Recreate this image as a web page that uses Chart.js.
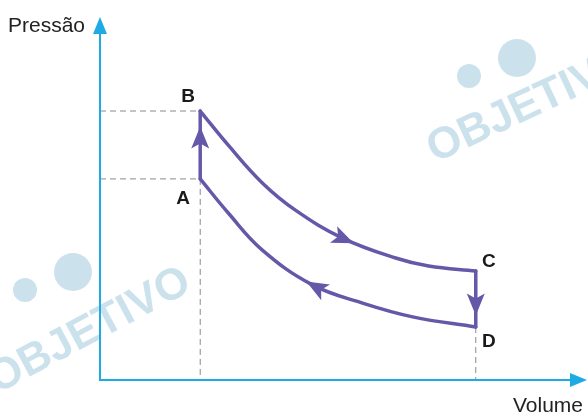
<!DOCTYPE html>
<html>
<head>
<meta charset="utf-8">
<script src="https://cdn.jsdelivr.net/npm/chart.js@4/dist/chart.umd.min.js"></script>
<style>
  html, body { margin: 0; padding: 0; background: #fff; }
  canvas { display: block; }
</style>
</head>
<body>
<canvas id="ciclo" width="588" height="414"></canvas>
<script>
// Curva B -> C (volume, pressão) em unidades arbitrárias
const volumeBC   = [2.0, 2.56, 3.24, 3.9, 4.84, 5.9, 6.56, 7.5];
const pressureBC = [7.41, 6.47, 5.43, 4.68, 3.91, 3.36, 3.14, 3.0];

// Curva A -> D
const volumeAD   = [2.0, 2.56, 3.24, 4.24, 5.24, 6.24, 7.5];
const pressureAD = [5.54, 4.60, 3.58, 2.62, 2.12, 1.74, 1.46];

// Estados
const stateLabels   = ["A", "B", "C", "D"];
const stateVolume   = [2.0, 2.0, 7.5, 7.5];
const statePressure = [5.54, 7.41, 3.0, 1.46];

const V_MAX = 9.72;
const P_MAX = 10;

const PURPLE = "#6658a8";
const AXIS_BLUE = "#1eaae3";
const WATERMARK = "rgba(160,202,220,0.55)";

const toPts = (xs, ys) => xs.map((x, i) => ({ x, y: ys[i] }));
const state = (i) => ({ x: stateVolume[i], y: statePressure[i] });

// arrows: dataset index, segment index, position t on segment, reversed?
const ARROWS = [
  { ds: 0, seg: 0, t: 0.69, reverse: false },
  { ds: 1, seg: 4, t: 0.2,  reverse: false },
  { ds: 2, seg: 0, t: 0.71, reverse: false },
  { ds: 3, seg: 2, t: 0.9,  reverse: true  },
];

const LABEL_OFFSET = { A: [-17, 20], B: [-12, -14], C: [13, -9], D: [13, 15] };

function bezierAt(p0, p1, p2, p3, t) {
  const u = 1 - t;
  const x = u*u*u*p0.x + 3*u*u*t*p1.x + 3*u*t*t*p2.x + t*t*t*p3.x;
  const y = u*u*u*p0.y + 3*u*u*t*p1.y + 3*u*t*t*p2.y + t*t*t*p3.y;
  const dx = 3*u*u*(p1.x-p0.x) + 6*u*t*(p2.x-p1.x) + 3*t*t*(p3.x-p2.x);
  const dy = 3*u*u*(p1.y-p0.y) + 6*u*t*(p2.y-p1.y) + 3*t*t*(p3.y-p2.y);
  return { x, y, dx, dy };
}

// faint "OBJETIVO" watermark with a simplified logo
function drawWatermark(ctx, x, y, deg, lx, ly) {
  ctx.save();
  ctx.fillStyle = WATERMARK;
  ctx.beginPath(); ctx.arc(lx, ly, 19, 0, Math.PI * 2); ctx.fill();
  ctx.beginPath(); ctx.arc(lx - 48, ly + 18, 12, 0, Math.PI * 2); ctx.fill();
  ctx.translate(x, y);
  ctx.rotate(deg * Math.PI / 180);
  ctx.font = "bold 44px 'Liberation Sans', Arial, sans-serif";
  ctx.textBaseline = "alphabetic";
  ctx.fillText("OBJETIVO", 0, 0);
  ctx.restore();
}

const cyclePlugin = {
  id: "ciclo",
  beforeDatasetsDraw(chart) {
    const { ctx, scales: { x, y } } = chart;
    drawWatermark(ctx, 435, 163, -25, 517, 58);
    drawWatermark(ctx, -3, 394, -28, 73, 272);

    const x0 = x.getPixelForValue(0), y0 = y.getPixelForValue(0);

    // dashed guides
    ctx.save();
    ctx.strokeStyle = "#8a8a8a";
    ctx.lineWidth = 1;
    ctx.setLineDash([6, 4]);
    const A = state(0), B = state(1), D = state(3);
    ctx.beginPath();
    [A, B].forEach(p => {
      ctx.moveTo(x0, y.getPixelForValue(p.y));
      ctx.lineTo(x.getPixelForValue(p.x), y.getPixelForValue(p.y));
    });
    [A, D].forEach(p => {
      ctx.moveTo(x.getPixelForValue(p.x), y.getPixelForValue(p.y));
      ctx.lineTo(x.getPixelForValue(p.x), y0);
    });
    ctx.stroke();
    ctx.restore();

    // axes with arrows
    const xEnd = x.getPixelForValue(V_MAX), yEnd = y.getPixelForValue(P_MAX);
    ctx.save();
    ctx.strokeStyle = AXIS_BLUE;
    ctx.fillStyle = AXIS_BLUE;
    ctx.lineWidth = 2;
    ctx.beginPath();
    ctx.moveTo(x0, yEnd + 14); ctx.lineTo(x0, y0); ctx.lineTo(xEnd - 14, y0);
    ctx.stroke();
    ctx.beginPath();
    ctx.moveTo(x0, yEnd); ctx.lineTo(x0 - 7, yEnd + 17); ctx.lineTo(x0 + 7, yEnd + 17); ctx.closePath();
    ctx.fill();
    ctx.beginPath();
    ctx.moveTo(xEnd, y0); ctx.lineTo(xEnd - 17, y0 - 7); ctx.lineTo(xEnd - 17, y0 + 7); ctx.closePath();
    ctx.fill();
    ctx.restore();
  },
  afterDatasetsDraw(chart) {
    const { ctx, scales: { x, y } } = chart;

    // arrow heads on the path
    ctx.save();
    ctx.fillStyle = PURPLE;
    ARROWS.forEach(a => {
      const pts = chart.getDatasetMeta(a.ds).data;
      const p0 = pts[a.seg], p3 = pts[a.seg + 1];
      const p1 = { x: p0.cp2x ?? p0.x, y: p0.cp2y ?? p0.y };
      const p2 = { x: p3.cp1x ?? p3.x, y: p3.cp1y ?? p3.y };
      const b = bezierAt(p0, p1, p2, p3, a.t);
      let ang = Math.atan2(b.dy, b.dx);
      if (a.reverse) ang += Math.PI;
      ctx.save();
      ctx.translate(b.x, b.y);
      ctx.rotate(ang);
      ctx.beginPath();
      ctx.moveTo(0, 0);
      ctx.lineTo(-22, -9);
      ctx.lineTo(-17, 0);
      ctx.lineTo(-22, 9);
      ctx.closePath();
      ctx.fill();
      ctx.restore();
    });
    ctx.restore();

    // state labels
    ctx.save();
    ctx.fillStyle = "#1a1a1a";
    ctx.font = "bold 19px 'Liberation Sans', Arial, sans-serif";
    ctx.textAlign = "center";
    ctx.textBaseline = "middle";
    stateLabels.forEach((lbl, i) => {
      const off = LABEL_OFFSET[lbl];
      ctx.fillText(lbl, x.getPixelForValue(stateVolume[i]) + off[0],
                        y.getPixelForValue(statePressure[i]) + off[1]);
    });

    // axis titles
    ctx.fillStyle = "#222";
    ctx.font = "21px 'Liberation Sans', Arial, sans-serif";
    ctx.textAlign = "left";
    ctx.textBaseline = "alphabetic";
    ctx.fillText("Pressão", 8, 32);
    ctx.fillText("Volume", 513, 412);
    ctx.restore();
  }
};

const lineStyle = {
  borderColor: PURPLE,
  borderWidth: 3.5,
  pointRadius: 0,
  showLine: true,
  fill: false,
  clip: false,
  borderCapStyle: "round",
  borderJoinStyle: "round",
};

new Chart(document.getElementById("ciclo"), {
  type: "scatter",
  data: {
    datasets: [
      { ...lineStyle, label: "A-B", data: [state(0), state(1)], tension: 0 },
      { ...lineStyle, label: "B-C", data: toPts(volumeBC, pressureBC), tension: 0.4 },
      { ...lineStyle, label: "C-D", data: [state(2), state(3)], tension: 0 },
      { ...lineStyle, label: "A-D", data: toPts(volumeAD, pressureAD), tension: 0.4 },
    ],
  },
  options: {
    responsive: false,
    animation: false,
    layout: { padding: { left: 100, top: 17, right: 1, bottom: 34 } },
    scales: {
      x: { type: "linear", min: 0, max: V_MAX, display: false },
      y: { type: "linear", min: 0, max: P_MAX, display: false },
    },
    plugins: {
      legend: { display: false },
      tooltip: { enabled: false },
    },
  },
  plugins: [cyclePlugin],
});
</script>
</body>
</html>
